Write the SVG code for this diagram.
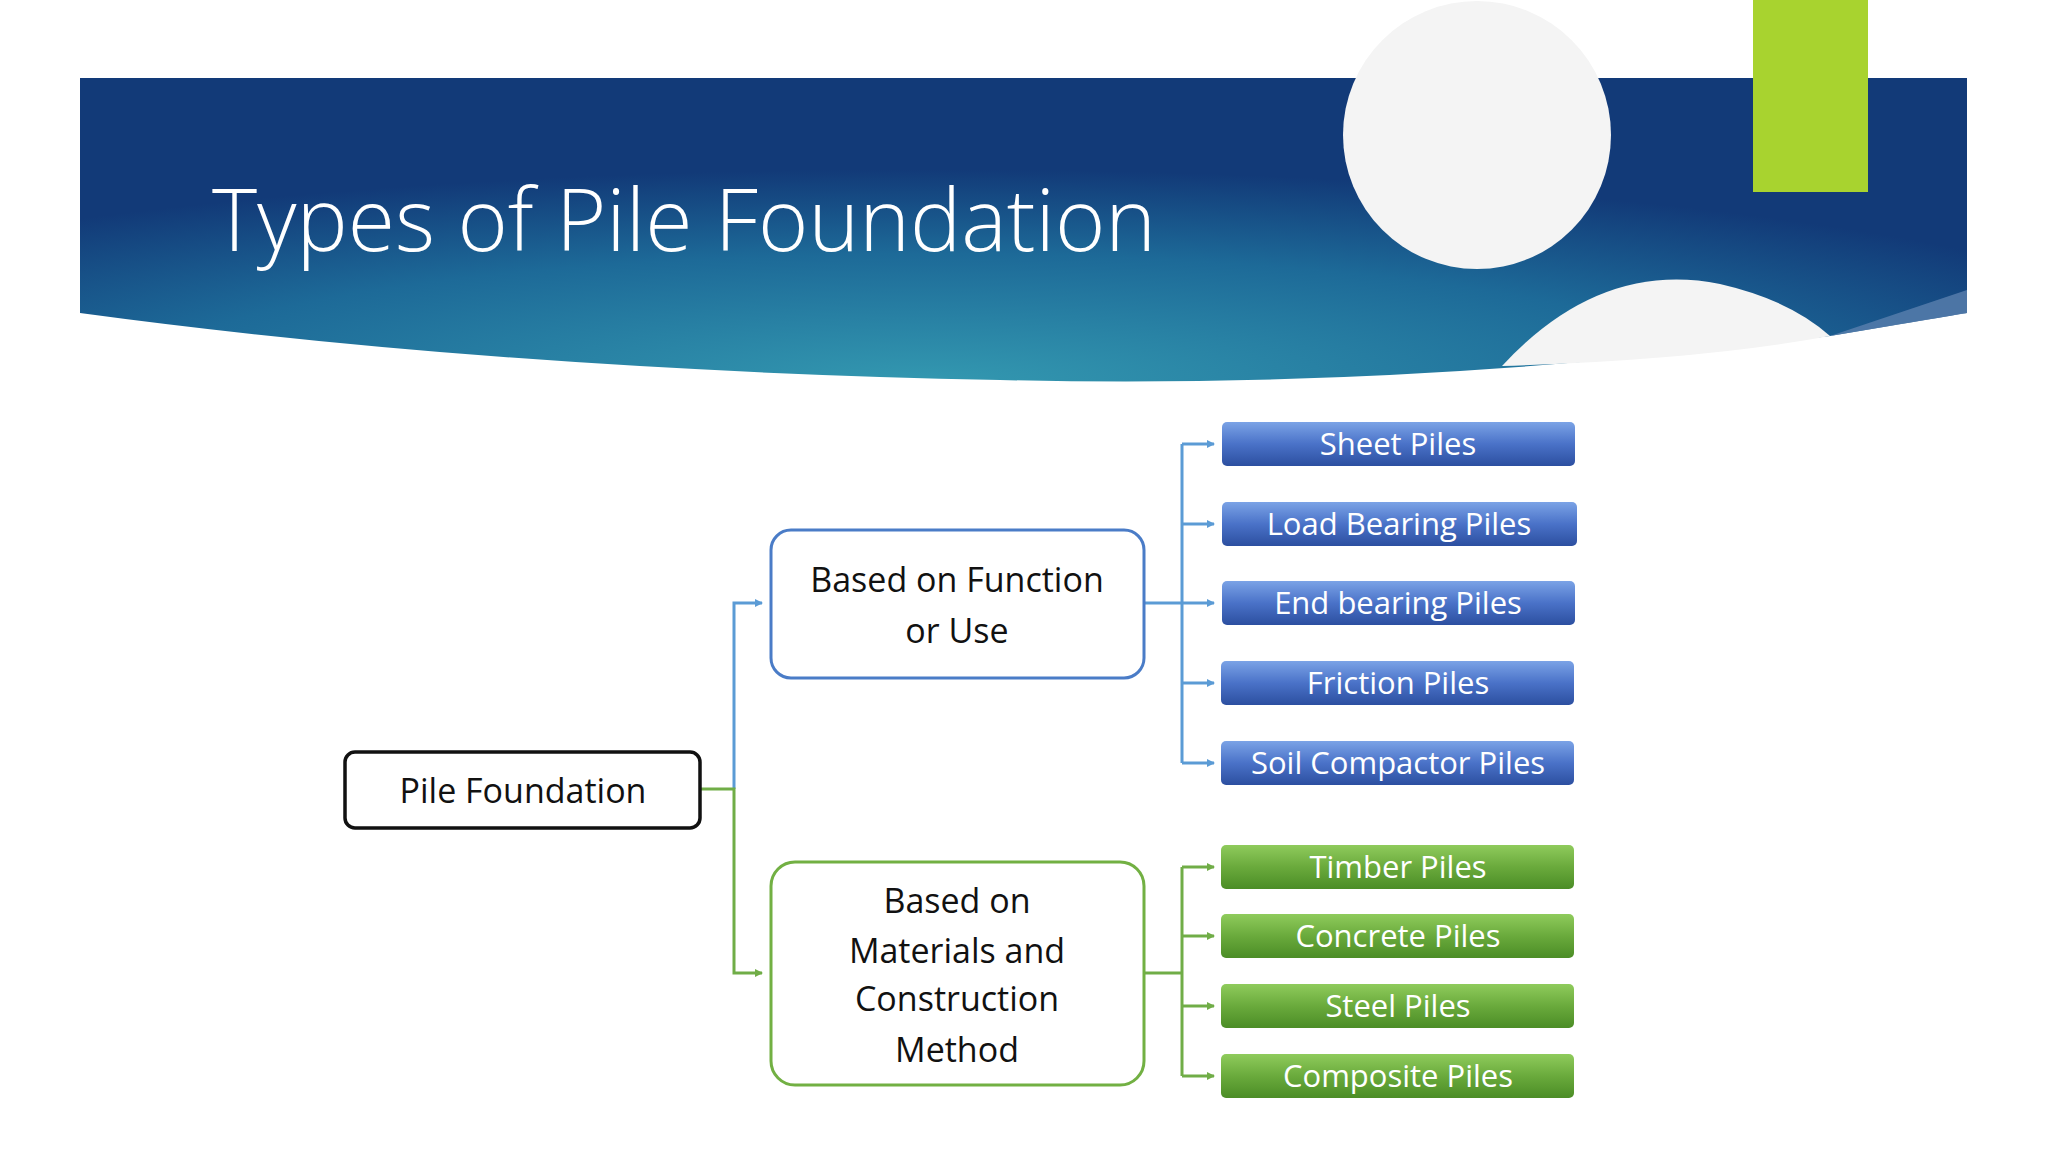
<svg xmlns="http://www.w3.org/2000/svg" width="2048" height="1152" viewBox="0 0 2048 1152">
<defs>
<linearGradient id="ban" x1="0" y1="0" x2="1" y2="1" gradientUnits="objectBoundingBox"><stop offset="0" stop-color="#123f78"/><stop offset="0.5" stop-color="#2b8aa8"/><stop offset="1" stop-color="#0f2f6e"/></linearGradient>
<radialGradient id="banr" cx="0.45" cy="1" r="0.7"><stop offset="0" stop-color="#3398b0"/><stop offset="0.6" stop-color="#1d6a98"/><stop offset="1" stop-color="#123a78"/></radialGradient>
<linearGradient id="bg" x1="0" y1="0" x2="0" y2="1"><stop offset="0" stop-color="#7ba3e6"/><stop offset="0.5" stop-color="#4a72c8"/><stop offset="1" stop-color="#2c4fa0"/></linearGradient>
<linearGradient id="gg" x1="0" y1="0" x2="0" y2="1"><stop offset="0" stop-color="#8fcb5c"/><stop offset="0.5" stop-color="#6aaa3c"/><stop offset="1" stop-color="#4b8d26"/></linearGradient>
<marker id="ab" markerWidth="8" markerHeight="8" refX="7" refY="4" orient="auto" markerUnits="userSpaceOnUse"><path d="M0,0 L8,4 L0,8 z" fill="#5b9bd5"/></marker>
<marker id="ag" markerWidth="8" markerHeight="8" refX="7" refY="4" orient="auto" markerUnits="userSpaceOnUse"><path d="M0,0 L8,4 L0,8 z" fill="#70ad47"/></marker>
</defs>
<style>
.lf{font-family:"Open Sans","Liberation Sans",sans-serif;}
.bx{font-family:"Open Sans","Liberation Sans",sans-serif;font-size:31px;fill:#fff;text-anchor:middle;}
.dk{font-family:"Open Sans","Liberation Sans",sans-serif;font-size:34px;fill:#111;text-anchor:middle;}
.cb{fill:none;stroke:#5b9bd5;stroke-width:3;}
.cg{fill:none;stroke:#70ad47;stroke-width:3;}
</style>
<rect width="2048" height="1152" fill="#fff"/>
<g id="banner">
<path d="M80,78 H1967 V313 Q1960,314 1830,336 Q1400,390 1000,380 Q500,370 80,313 Z" fill="url(#banr)"/>
<path d="M1830,336 L1967,290 V313 Z" fill="#5a7fae" opacity="0.8"/>
<circle cx="1477" cy="135" r="134" fill="#f4f4f4"/>
<rect x="1340" y="78" width="280" height="0" fill="none"/>
<path d="M1502,366 Q1600,260 1720,284 Q1790,300 1830,336 Q1700,360 1502,366 Z" fill="#f4f4f4"/>
<rect x="1753" y="0" width="115" height="192" fill="#a8d32f"/>
<text x="212" y="251" class="lf" font-size="86" font-weight="300" fill="#fff">Types of Pile Foundation</text>
</g>
<g id="connectors">
<polyline class="cb" points="734,789 734,603 762,603" marker-end="url(#ab)"/>
<polyline class="cg" points="700,789 734,789 734,973 762,973" marker-end="url(#ag)"/>
<polyline class="cb" points="1144,603 1182,603"/>
<line class="cb" x1="1182" y1="444" x2="1182" y2="763"/>
<polyline class="cb" points="1182,444 1214,444" marker-end="url(#ab)"/>
<polyline class="cb" points="1182,524 1214,524" marker-end="url(#ab)"/>
<polyline class="cb" points="1182,603 1214,603" marker-end="url(#ab)"/>
<polyline class="cb" points="1182,683 1214,683" marker-end="url(#ab)"/>
<polyline class="cb" points="1182,763 1214,763" marker-end="url(#ab)"/>
<polyline class="cg" points="1144,973 1182,973"/>
<line class="cg" x1="1182" y1="867" x2="1182" y2="1076"/>
<polyline class="cg" points="1182,867 1214,867" marker-end="url(#ag)"/>
<polyline class="cg" points="1182,936 1214,936" marker-end="url(#ag)"/>
<polyline class="cg" points="1182,1006 1214,1006" marker-end="url(#ag)"/>
<polyline class="cg" points="1182,1076 1214,1076" marker-end="url(#ag)"/>
</g>
<g id="pile-foundation"><rect x="345" y="752" width="355" height="76" rx="10" fill="#fff" stroke="#111" stroke-width="3.5"/><text x="523" y="803" class="dk" font-size="40">Pile Foundation</text></g>
<g id="function"><rect x="771" y="530" width="373" height="148" rx="20" fill="#fff" stroke="#4a7cc7" stroke-width="3"/><text x="957" y="592" class="dk">Based on Function</text><text x="957" y="643" class="dk">or Use</text></g>
<g id="materials"><rect x="771" y="862" width="373" height="223" rx="24" fill="#fff" stroke="#72b043" stroke-width="3"/><text x="957" y="913" class="dk">Based on</text><text x="957" y="963" class="dk">Materials and</text><text x="957" y="1011" class="dk">Construction</text><text x="957" y="1062" class="dk">Method</text></g>
<g id="sheet"><rect x="1222" y="422" width="353" height="44" rx="5" fill="url(#bg)"/><text x="1398" y="455" class="bx">Sheet Piles</text></g>
<g id="load"><rect x="1222" y="502" width="355" height="44" rx="5" fill="url(#bg)"/><text x="1399" y="535" class="bx">Load Bearing Piles</text></g>
<g id="end"><rect x="1222" y="581" width="353" height="44" rx="5" fill="url(#bg)"/><text x="1398" y="614" class="bx">End bearing Piles</text></g>
<g id="friction"><rect x="1221" y="661" width="353" height="44" rx="5" fill="url(#bg)"/><text x="1398" y="694" class="bx">Friction Piles</text></g>
<g id="soil"><rect x="1221" y="741" width="353" height="44" rx="5" fill="url(#bg)"/><text x="1398" y="774" class="bx">Soil Compactor Piles</text></g>
<g id="timber"><rect x="1221" y="845" width="353" height="44" rx="5" fill="url(#gg)"/><text x="1398" y="878" class="bx">Timber Piles</text></g>
<g id="concrete"><rect x="1221" y="914" width="353" height="44" rx="5" fill="url(#gg)"/><text x="1398" y="947" class="bx">Concrete Piles</text></g>
<g id="steel"><rect x="1221" y="984" width="353" height="44" rx="5" fill="url(#gg)"/><text x="1398" y="1017" class="bx">Steel Piles</text></g>
<g id="composite"><rect x="1221" y="1054" width="353" height="44" rx="5" fill="url(#gg)"/><text x="1398" y="1087" class="bx">Composite Piles</text></g>
</svg>
